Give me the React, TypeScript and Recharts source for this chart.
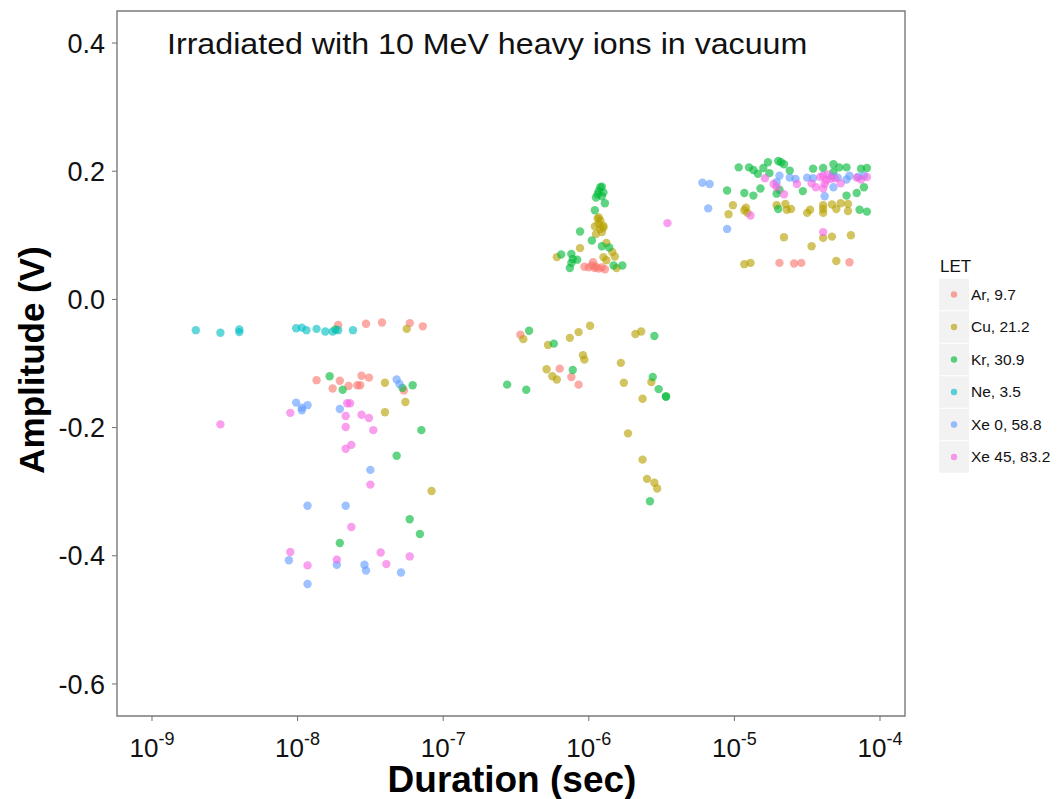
import React from 'react';
import { ScatterChart, Scatter, XAxis, YAxis, ReferenceArea, Legend, Customized } from 'recharts';

// Duration (sec) and Amplitude (V) per LET group
const arDur = [1.9e-8, 2.95e-8, 3.8e-8, 5.9e-8, 7.24e-8, 1.35e-8, 1.74e-8, 1.95e-8, 2.24e-8, 2.57e-8, 2.69e-8, 2.75e-8, 3.09e-8, 5.37e-8,
  3.39e-7, 6.31e-7, 7.59e-7, 8.51e-7,
  9.33e-7, 1.0e-6, 1.05e-6, 1.07e-6, 1.1e-6, 1.12e-6, 1.17e-6, 1.23e-6, 1.29e-6,
  2.04e-5, 2.57e-5, 2.88e-5, 6.17e-5];
const arAmp = [-0.040, -0.038, -0.036, -0.037, -0.042, -0.126, -0.139, -0.127, -0.135, -0.134, -0.134, -0.119, -0.122, -0.142,
  -0.055, -0.108, -0.121, -0.133,
  0.051, 0.050, 0.053, 0.058, 0.049, 0.051, 0.048, 0.050, 0.047,
  0.057, 0.056, 0.057, 0.058];

const cuDur = [5.62e-8, 3.98e-8, 5.5e-8, 3.98e-8, 8.32e-8,
  1.15e-6, 1.2e-6, 1.17e-6, 1.26e-6, 1.1e-6, 1.2e-6, 1.26e-6, 1.12e-6, 8.71e-7, 6.03e-7, 1.32e-6, 1.45e-6, 1.26e-6, 1.32e-6, 1.51e-6, 1.55e-6, 1.17e-6, 1.23e-6,
  3.55e-7, 5.25e-7, 7.41e-7, 8.51e-7, 1.02e-6, 2.09e-6, 2.29e-6, 9.12e-7, 9.33e-7, 1.66e-6, 5.13e-7, 5.62e-7, 6.03e-7, 1.74e-6, 2.69e-6, 2.34e-6, 1.86e-6, 2.34e-6, 2.51e-6, 2.82e-6, 2.95e-6,
  9.77e-6, 9.12e-6, 1.17e-5, 1.2e-5, 1.23e-5, 1.95e-5, 2.24e-5, 2.29e-5, 2.45e-5, 3.16e-5, 3.31e-5, 4.07e-5, 4.07e-5, 4.68e-5, 5.01e-5, 5.37e-5, 6.03e-5, 6.03e-5, 4.07e-5,
  2.19e-5, 3.39e-5, 4.07e-5, 4.68e-5, 6.31e-5, 1.17e-5, 1.29e-5, 5.01e-5];
const cuAmp = [-0.046, -0.130, -0.160, -0.176, -0.299,
  0.126, 0.123, 0.118, 0.115, 0.114, 0.110, 0.112, 0.102, 0.080, 0.066, 0.088, 0.074, 0.066, 0.061, 0.067, 0.049, 0.128, 0.105,
  -0.062, -0.071, -0.060, -0.051, -0.041, -0.054, -0.050, -0.087, -0.094, -0.099, -0.109, -0.120, -0.125, -0.130, -0.129, -0.155, -0.209, -0.250, -0.280, -0.286, -0.295,
  0.147, 0.133, 0.139, 0.143, 0.135, 0.147, 0.149, 0.140, 0.141, 0.135, 0.140, 0.147, 0.135, 0.148, 0.141, 0.150, 0.149, 0.138, 0.141,
  0.097, 0.083, 0.096, 0.098, 0.100, 0.055, 0.057, 0.060];

const krDur = [1.82e-8, 1.66e-8, 2.04e-8, 5.25e-8, 6.17e-8, 7.08e-8, 4.79e-8, 5.89e-8, 6.92e-8, 1.95e-8,
  1.2e-6, 1.23e-6, 1.17e-6, 1.26e-6, 1.15e-6, 1.23e-6, 1.12e-6, 1.29e-6, 1.1e-6, 8.71e-7, 1.05e-6, 1.23e-6, 1.38e-6, 6.46e-7, 7.59e-7, 7.76e-7, 8.32e-7, 7.41e-7, 7.59e-7, 1.48e-6, 1.7e-6,
  3.89e-7, 5.75e-7, 7.76e-7, 2.75e-7, 3.72e-7, 2.82e-6, 2.75e-6, 3.02e-6, 3.39e-6, 3.39e-6, 2.63e-6,
  1.07e-5, 1.26e-5, 1.35e-5, 1.45e-5, 1.58e-5, 1.7e-5, 1.74e-5, 2.0e-5, 2.09e-5, 2.19e-5, 2.4e-5, 3.47e-5, 4.07e-5, 4.79e-5, 5.25e-5, 5.89e-5, 7.41e-5, 8.13e-5,
  8.91e-6, 1.17e-5, 1.35e-5, 1.51e-5, 1.95e-5, 2.04e-5, 2.95e-5, 4.79e-5, 5.89e-5, 6.92e-5, 7.76e-5, 2.0e-5, 7.24e-5, 8.13e-5];
const krAmp = [-0.047, -0.120, -0.141, -0.138, -0.134, -0.204, -0.244, -0.343, -0.366, -0.380,
  0.175, 0.176, 0.169, 0.167, 0.164, 0.161, 0.159, 0.150, 0.139, 0.106, 0.092, 0.083, 0.081, 0.070, 0.071, 0.063, 0.062, 0.049, 0.057, 0.053, 0.053,
  -0.049, -0.069, -0.110, -0.133, -0.141, -0.057, -0.121, -0.140, -0.151, -0.152, -0.315,
  0.206, 0.206, 0.202, 0.196, 0.205, 0.214, 0.197, 0.216, 0.214, 0.211, 0.201, 0.204, 0.205, 0.211, 0.206, 0.206, 0.204, 0.205,
  0.170, 0.166, 0.162, 0.173, 0.165, 0.171, 0.169, 0.199, 0.162, 0.166, 0.175, 0.141, 0.140, 0.137];

const neDur = [2.0e-9, 2.95e-9, 3.98e-9, 3.98e-9, 9.77e-9, 1.07e-8, 1.15e-8, 1.35e-8, 1.55e-8, 1.74e-8, 1.9e-8, 2.4e-8];
const neAmp = [-0.048, -0.052, -0.047, -0.051, -0.045, -0.044, -0.048, -0.046, -0.050, -0.050, -0.048, -0.048];

const xe0Dur = [4.79e-8, 5.01e-8, 9.77e-9, 1.07e-8, 1.07e-8, 1.17e-8, 1.95e-8, 3.16e-8, 1.17e-8, 2.14e-8, 8.71e-9, 1.86e-8, 2.88e-8, 2.95e-8, 5.13e-8, 1.17e-8,
  6.03e-6, 6.76e-6, 6.61e-6, 8.91e-6, 2.04e-5, 2.4e-5, 2.63e-5, 3.16e-5, 3.47e-5, 4.68e-5, 5.13e-5, 5.89e-5, 6.17e-5, 7.08e-5, 7.76e-5, 4.17e-5, 4.79e-5, 1.95e-5];
const xe0Amp = [-0.125, -0.132, -0.161, -0.169, -0.173, -0.165, -0.171, -0.266, -0.322, -0.322, -0.407, -0.414, -0.414, -0.423, -0.426, -0.444,
  0.182, 0.180, 0.142, 0.110, 0.193, 0.190, 0.188, 0.190, 0.189, 0.192, 0.190, 0.187, 0.193, 0.191, 0.193, 0.161, 0.175, 0.183];

const xe45Dur = [2.95e-9, 8.91e-9, 2.19e-8, 2.29e-8, 2.14e-8, 2.75e-8, 3.09e-8, 2.14e-8, 3.31e-8, 2.14e-8, 2.34e-8, 3.16e-8, 2.34e-8, 8.91e-9, 3.72e-8, 5.89e-8, 1.17e-8, 1.86e-8, 4.07e-8,
  3.47e-6,
  1.62e-5, 1.86e-5, 1.95e-5, 2.19e-5, 2.69e-5, 3.39e-5, 3.63e-5, 3.89e-5, 4.07e-5, 4.27e-5, 4.17e-5, 4.57e-5, 4.07e-5, 5.37e-5, 6.92e-5, 7.41e-5, 8.13e-5, 1.29e-5, 4.07e-5, 4.37e-5, 4.9e-5];
const xe45Amp = [-0.195, -0.177, -0.162, -0.162, -0.182, -0.180, -0.185, -0.199, -0.204, -0.233, -0.227, -0.289, -0.355, -0.394, -0.395, -0.401, -0.415, -0.406, -0.413,
  0.119,
  0.189, 0.180, 0.175, 0.164, 0.180, 0.181, 0.175, 0.191, 0.193, 0.186, 0.180, 0.188, 0.173, 0.181, 0.190, 0.187, 0.191, 0.131, 0.105, 0.195, 0.189];

const seriesNames = ['Ar, 9.7', 'Cu, 21.2', 'Kr, 30.9', 'Ne, 3.5', 'Xe 0, 58.8', 'Xe 45, 83.2'];
const seriesColors = ['#F8766D', '#B79F00', '#00BA38', '#00BFC4', '#619CFF', '#F564E3'];
const xTicks = [1e-9, 1e-8, 1e-7, 1e-6, 1e-5, 1e-4];
const yTicks = [-0.6, -0.4, -0.2, 0, 0.2, 0.4];
const xDomain: [number, number] = [5.75e-10, 1.485e-4];
const yDomain: [number, number] = [-0.65, 0.45];
const titleText = 'Irradiated with 10 MeV heavy ions in vacuum';
const xTitle = 'Duration (sec)';
const yTitle = 'Amplitude (V)';
const legendTitle = 'LET';

const FONT = '"Liberation Sans", Arial, Helvetica, sans-serif';

const mk = (d: number[], a: number[]) => d.map((v, i) => ({ x: v, y: a[i] }));
const seriesData = [mk(arDur, arAmp), mk(cuDur, cuAmp), mk(krDur, krAmp), mk(neDur, neAmp), mk(xe0Dur, xe0Amp), mk(xe45Dur, xe45Amp)];

const XTick = (props: any) => {
  const { x, y, payload } = props;
  const exp = Math.round(Math.log10(payload.value));
  return (
    <text x={x} y={y + 34} textAnchor="middle" fontFamily={FONT} fill="#111">
      <tspan fontSize={26}>10</tspan>
      <tspan fontSize={18} dy={-12}>{String(exp)}</tspan>
    </text>
  );
};

const YTick = (props: any) => {
  const { x, y, payload } = props;
  return (
    <text x={x} y={y} dy="0.36em" textAnchor="end" fontFamily={FONT} fontSize={27} fill="#111">
      {Number(payload.value).toFixed(1)}
    </text>
  );
};

const Texts = () => (
  <g>
    <text x={159} y={46} fontFamily={FONT} fontSize={29} fill="#111" transform="translate(159,46) scale(1.11,1) translate(-159,-46)">
      {titleText}
    </text>
    <text x={504} y={784} textAnchor="middle" fontFamily={FONT} fontSize={37} fontWeight="bold" fill="#000">
      {xTitle}
    </text>
    <text x={0} y={0} textAnchor="middle" fontFamily={FONT} fontSize={35} fontWeight="bold" fill="#000" transform="translate(36,352) rotate(-90)">
      {yTitle}
    </text>
  </g>
);

const LegendBox = () => {
  const rowH = 32.5;
  const y0 = 46.5;
  return (
    <svg width={124} height={240} style={{ display: 'block', overflow: 'visible' }}>
      <text x={12} y={24} fontFamily={FONT} fontSize={17} fill="#111">{legendTitle}</text>
      {seriesNames.map((n, i) => {
        const cy = y0 + rowH * i;
        return (
          <g key={n}>
            <rect x={11} y={cy - rowH / 2 + 0.5} width={30} height={rowH - 1} fill="#f2f2f2" />
            <circle cx={26} cy={cy} r={3.2} fill={seriesColors[i]} fillOpacity={0.65} />
            <text x={43} y={cy} dy="0.35em" fontFamily={FONT} fontSize={15.5} fill="#111">{n}</text>
          </g>
        );
      })}
    </svg>
  );
};

export default function App() {
  return (
    <div style={{ width: 1052, height: 791, background: '#fff' }}>
      <ScatterChart width={1052} height={791} margin={{ top: 3, right: 155, bottom: 23, left: 0 }}>
        <XAxis
          dataKey="x"
          type="number"
          scale="log"
          domain={xDomain}
          allowDataOverflow
          ticks={xTicks}
          interval={0}
          tick={<XTick />}
          tickSize={5}
          stroke="#707070"
          axisLine={false}
          height={60}
        />
        <YAxis
          dataKey="y"
          type="number"
          domain={yDomain}
          allowDataOverflow
          ticks={yTicks}
          interval={0}
          tick={<YTick />}
          tickSize={5}
          tickMargin={7}
          stroke="#707070"
          axisLine={false}
          width={109}
        />
        {seriesData.map((d, i) => (
          <Scatter
            key={seriesNames[i]}
            name={seriesNames[i]}
            data={d}
            fill={seriesColors[i]}
            isAnimationActive={false}
            shape={(p: any) => <circle cx={p.cx} cy={p.cy} r={4.2} fill={seriesColors[i]} fillOpacity={0.62} />}
          />
        ))}
        <ReferenceArea x1={xDomain[0]} x2={xDomain[1]} y1={yDomain[0]} y2={yDomain[1]} fill="none" fillOpacity={0} stroke="#7a7a7a" strokeWidth={1.4} ifOverflow="visible" />
        <Customized component={Texts} />
        <Legend
          layout="vertical"
          align="center"
          verticalAlign="middle"
          content={() => <LegendBox />}
          wrapperStyle={{ position: 'absolute', left: 920, top: 240, width: 124, height: 240 }}
        />
      </ScatterChart>
    </div>
  );
}
